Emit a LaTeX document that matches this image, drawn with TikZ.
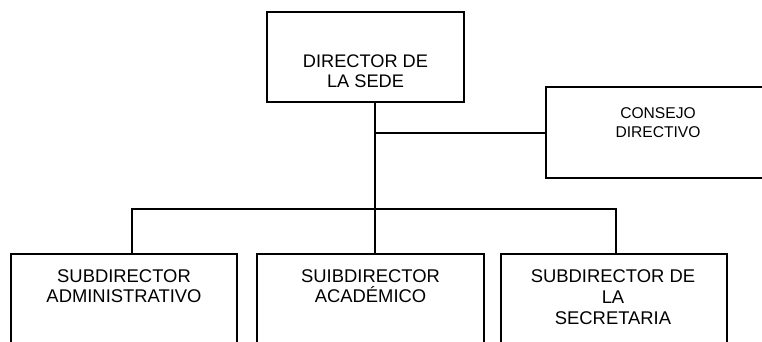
\documentclass[tikz,border=0pt]{standalone}
\usepackage{fontspec}
\setmainfont{Liberation Sans}
\begin{document}
\begin{tikzpicture}[x=1pt,y=1pt,
  box/.style={draw=black, line width=2pt, rectangle, inner sep=0pt},
  txt/.style={align=center, inner sep=0pt, text=black},
  conn/.style={draw=black, line width=2pt}]
\clip (0,0) rectangle (762,341);
\fill[white] (0,0) rectangle (762,341);
% boxes
\node[box, minimum width=197pt, minimum height=90pt] (dir) at (365.5,284) {};
\node[box, minimum width=224pt, minimum height=91pt] (cons) at (658,208.5) {};
\node[box, minimum width=226pt, minimum height=110pt] (box1) at (124,32) {};
\node[box, minimum width=227pt, minimum height=110pt] (box2) at (370.5,32) {};
\node[box, minimum width=226pt, minimum height=110pt] (box3) at (614,32) {};
% texts
\node[txt, font=\fontsize{18.2}{20}\selectfont] (dirt) at (365.5,269.5) {DIRECTOR DE\\LA SEDE};
\node[txt, font=\fontsize{15.6}{18.5}\selectfont] (const) at (658,218.25) {CONSEJO\\DIRECTIVO};
\node[txt, font=\fontsize{18.4}{20.5}\selectfont] (box1t) at (124,54.75) {SUBDIRECTOR\\ADMINISTRATIVO};
\node[txt, font=\fontsize{18.4}{20.5}\selectfont] (box2t) at (370.5,54.75) {SUIBDIRECTOR\\ACADÉMICO};
\node[txt, font=\fontsize{18.4}{21}\selectfont] (box3t) at (613,44) {SUBDIRECTOR DE\\LA\\SECRETARIA};
% connectors
\coordinate (jc) at (374.5,208.5);
\coordinate (b1) at (132,132);
\coordinate (b2) at (374.5,132);
\coordinate (b3) at (616,132);
\draw[conn] (dir.south -| b2) -- (box2.north -| b2);
\draw[conn] (jc) -- (cons.west |- jc);
\draw[conn] (box1.north -| b1) -- (b1) -- (b3) -- (box3.north -| b3);
\end{tikzpicture}
\end{document}
